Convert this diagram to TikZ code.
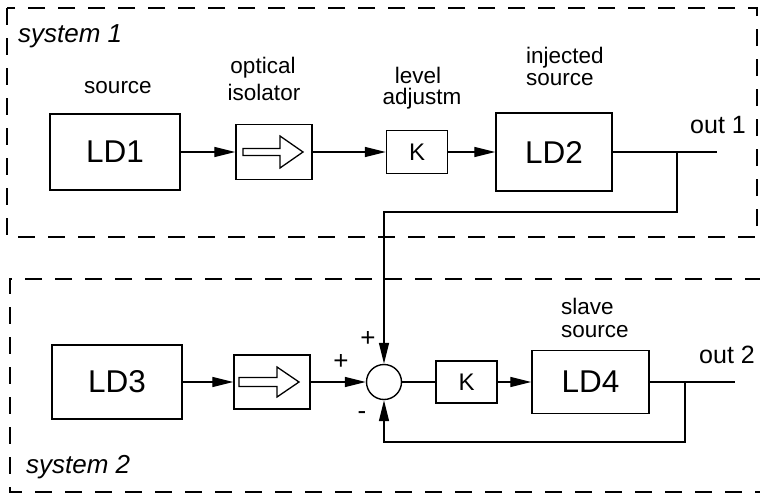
\documentclass[tikz,border=0pt]{standalone}
\usepackage{fontspec}
\setmainfont{Liberation Sans}
\usetikzlibrary{arrows.meta}
\begin{document}
\begin{tikzpicture}[x=1pt,y=-1pt,
  blk/.style={draw, line width=1.4pt, inner sep=0pt},
  ldbox/.style={blk, font=\fontsize{31.5}{31.5}\selectfont},
  kbox/.style={blk, font=\fontsize{24}{24}\selectfont, minimum width=61pt, minimum height=43pt},
  isobox/.style={blk, minimum width=76pt, minimum height=55pt},
  lbl/.style={inner sep=0pt, font=\fontsize{22.5}{22.5}\selectfont},
  syslbl/.style={inner sep=0pt, font=\fontsize{26}{26}\selectfont\itshape},
  outlbl/.style={inner sep=0pt, font=\fontsize{25}{25}\selectfont},
  sgn/.style={inner sep=0pt, font=\fontsize{26}{26}\selectfont},
  conn/.style={line width=1.3pt},
  arr/.style={conn, -{Triangle[length=21pt,width=10pt]}},
  dashbox/.style={line width=1.3pt, dash pattern=on 17pt off 13pt},
  hollow/.style={line width=1.3pt, line join=miter}
]
\useasboundingbox (0,0) rectangle (760,493);

% dashed system boxes
\draw[dashbox] (7,8) rectangle (757,237);
\draw[dashbox] (762,279) -- (10,279) -- (10,492) -- (762,492);

% system labels
\node[syslbl, anchor=base west] (sys1) at (18,42) {system 1};
\node[syslbl, anchor=base west] (sys2) at (26,473) {system 2};

% ---------- system 1 ----------
\node[ldbox, minimum width=130pt, minimum height=76pt] (LD1) at (115,152) {LD1};
\node[isobox] (iso1) at (274,152) {};
\node[kbox] (K1) at (417,152) {K};
\node[ldbox, minimum width=116pt, minimum height=78pt] (LD2) at (554,152) {LD2};
\coordinate (j1) at (677,152);
\coordinate (o1) at (717,152);

\draw[hollow, shift={(iso1.center)}] (-31,-3.5) -- (6,-3.5) -- (6,-16) -- (29,0) -- (6,16) -- (6,3.5) -- (-31,3.5) -- cycle;

\node[lbl, anchor=base] (src1) at (118,93) {source};
\node[lbl, anchor=base] (opt1) at (263,73) {optical};
\node[lbl, anchor=base] (isl1) at (264,100) {isolator};
\node[lbl, anchor=base] (lev1) at (418,83) {level};
\node[lbl, anchor=base] (adj1) at (422,104) {adjustm};
\node[lbl, anchor=base west] (inj1) at (526,63) {injected};
\node[lbl, anchor=base west] (inj2) at (526,85) {source};
\node[outlbl, anchor=base] (out1) at (718,133) {out 1};

\draw[arr] (LD1.east) -- (iso1.west);
\draw[arr] (iso1.east) -- (K1.west);
\draw[arr] (K1.east) -- (LD2.west);
\draw[conn] (LD2.east) -- (o1);

% ---------- system 2 ----------
\node[ldbox, minimum width=130pt, minimum height=74pt] (LD3) at (117,382) {LD3};
\node[isobox, minimum height=54pt] (iso2) at (272,382) {};
\node[draw, line width=1.4pt, circle, minimum size=35pt, inner sep=0pt] (sum) at (384,382) {};
\node[kbox, minimum height=42pt] (K2) at (466.5,382) {K};
\node[ldbox, minimum width=117pt, minimum height=63pt] (LD4) at (590.5,382) {LD4};
\coordinate (j2) at (685,382);
\coordinate (o2) at (735,382);

\draw[hollow, shift={(iso2.center)}] (-33,-4.5) -- (5,-4.5) -- (5,-15) -- (27,0) -- (5,15) -- (5,4.5) -- (-33,4.5) -- cycle;

\node[lbl, anchor=base west] (slv1) at (561,314) {slave};
\node[lbl, anchor=base west] (slv2) at (561,337) {source};
\node[outlbl, anchor=base] (out2) at (727,363) {out 2};

\node[sgn] (pl1) at (341,362) {+};
\node[sgn] (pl2) at (368,339) {+};
\node[sgn] (mn1) at (362,416) {-};

\draw[arr] (LD3.east) -- (iso2.west);
\draw[arr] (iso2.east) -- (sum.west);
\draw[conn] (sum.east) -- (K2.west);
\draw[arr] (K2.east) -- (LD4.west);
\draw[conn] (LD4.east) -- (o2);

% feedback / injection paths
\draw[arr] (j1) -- ++(0,60) -| (sum.north);
\draw[arr] (j2) -- ++(0,60) -| (sum.south);
\end{tikzpicture}
\end{document}
